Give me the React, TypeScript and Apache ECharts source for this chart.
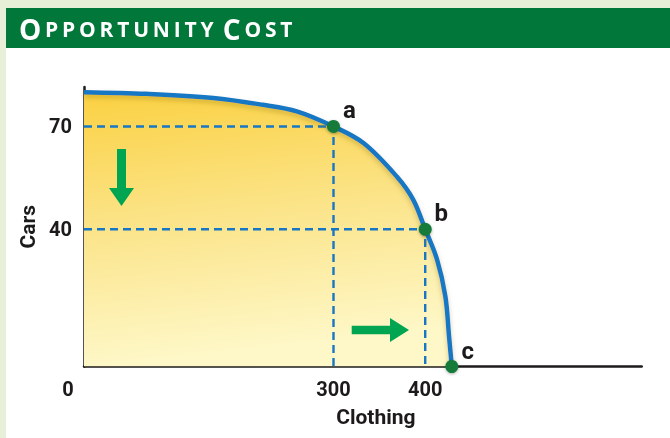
import React, { useEffect, useRef } from 'react';
import * as echarts from 'echarts';

// Production possibilities frontier (Clothing vs Cars)
const curveClothing = [28, 96, 169, 223, 260, 300, 333, 369, 387, 400, 413, 422, 426, 429];
const curveCars = [80, 79.5, 78.3, 76.3, 74.4, 70, 65.1, 55.4, 48.6, 40, 31.1, 20.4, 8.7, 0];
const pointNames = ['a', 'b', 'c'];
const pointClothing = [300, 400, 429];
const pointCars = [70, 40, 0];
const carTicks = [40, 70];
const clothingTicks = [28, 300, 400];
const clothingTickLabels = ['0', '300', '400'];
const clothingMin = 28;
const clothingMax = 636;
const carsMax = 81.5;
const titleText = 'OPPORTUNITY COST';

const AXIS_FONT = 'Roboto, "Liberation Sans Narrow", sans-serif';
const INK = '#1c1a1b';
const BLUE = '#1777c4';
const ARROW = '#00a551';

export default function App() {
  const ref = useRef<HTMLDivElement>(null);
  useEffect(() => {
    if (!ref.current) return;
    const chart = echarts.init(ref.current, undefined, { renderer: 'svg' });
    const curve = curveClothing.map((x, i) => [x, curveCars[i]]);
    const points = pointNames.map((n, i) => ({ value: [pointClothing[i], pointCars[i]], name: n }));
    const guides = [0, 1].map((i) => [
      [clothingMin, pointCars[i]],
      [pointClothing[i], pointCars[i]],
      [pointClothing[i], 0],
    ]);
    // small caps: first letter of each word large, others small, with letter spacing via padding
    const richTitle = titleText
      .split(' ')
      .map((w) => w.split('').map((ch, k) => `{${k === 0 ? 'b' : 's'}|${ch}}`).join(''))
      .join('{sp| }');
    const tf = '"Open Sans", sans-serif';
    const txt = { color: INK, fontFamily: AXIS_FONT, fontWeight: 'bold' as const, fontSize: 20 };

    chart.setOption({
      animation: false,
      grid: { left: 84, right: 28.3, top: 87, bottom: 71.5 },
      xAxis: {
        type: 'value',
        min: clothingMin,
        max: clothingMax,
        splitLine: { show: false },
        axisTick: { show: false },
        axisLine: { lineStyle: { color: INK, width: 2.5 } },
        axisLabel: {
          customValues: clothingTicks,
          margin: 12,
          formatter: (v: number) => {
            const idx = clothingTicks.indexOf(v);
            const t = idx >= 0 ? clothingTickLabels[idx] : '';
            return idx === 0 ? `{z|${t}}` : t;
          },
          ...txt,
          rich: { z: { ...txt, padding: [0, 32, 0, 0] } },
        },
        name: 'Clothing',
        nameLocation: 'middle',
        nameGap: 40,
        nameTextStyle: { ...txt, fontSize: 21, padding: [0, 0, 0, 26] },
      },
      yAxis: {
        type: 'value',
        min: 0,
        max: carsMax,
        splitLine: { show: false },
        axisTick: { show: false },
        axisLine: { lineStyle: { color: INK, width: 2.5 } },
        axisLabel: { customValues: carTicks, margin: 12, ...txt },
        name: 'Cars',
        nameLocation: 'middle',
        nameGap: 42,
        nameRotate: 90,
        nameTextStyle: { ...txt, fontSize: 21 },
      },
      series: [
        {
          type: 'line',
          data: curve,
          smooth: 0.35,
          symbol: 'none',
          z: 1,
          lineStyle: { width: 0 },
          areaStyle: {
            opacity: 1,
            color: {
              type: 'linear', x: 0, y: 0, x2: 0.15, y2: 1,
              colorStops: [
                { offset: 0, color: '#fbd142' },
                { offset: 0.5, color: '#fbe48a' },
                { offset: 1, color: '#fef8c9' },
              ],
            },
          },
        },
        ...guides.map((g) => ({
          type: 'line',
          data: g,
          symbol: 'none',
          z: 2,
          lineStyle: { color: BLUE, width: 2.4, type: [8, 5] },
        })),
        {
          type: 'line',
          data: curve,
          smooth: 0.35,
          symbol: 'none',
          z: 3,
          lineStyle: {
            color: BLUE,
            width: 4.5,
            shadowColor: 'rgba(140,110,0,0.35)',
            shadowBlur: 5,
            shadowOffsetY: 3,
          },
        },
        {
          type: 'scatter',
          data: points,
          symbolSize: 13,
          z: 4,
          itemStyle: { color: '#147a3b', opacity: 1, shadowColor: 'rgba(0,0,0,0.3)', shadowBlur: 3, shadowOffsetY: 1 },
          label: {
            show: true,
            formatter: (p: any) => p.name,
            position: 'inside',
            offset: [16, -16],
            ...txt,
            fontSize: 24,
          },
        },
      ],
      graphic: [
        { type: 'rect', z: -20, silent: true, shape: { x: 0, y: 0, width: 670, height: 438 }, style: { fill: '#e8efd9' } },
        { type: 'rect', z: -19, silent: true, shape: { x: 6, y: 47.7, width: 664, height: 391 }, style: { fill: '#ffffff' } },
        { type: 'rect', z: -19, silent: true, shape: { x: 6, y: 8, width: 664, height: 40 }, style: { fill: '#02773a' } },
        {
          type: 'text',
          z: 10,
          x: 19,
          y: 28.5,
          style: {
            text: richTitle,
            verticalAlign: 'middle',
            fill: '#ffffff',
            rich: {
              b: { fontFamily: tf, fontWeight: 'bold', fontSize: 28, fill: '#ffffff', padding: [0, 3.8, 0, 0] },
              s: { fontFamily: tf, fontWeight: 'bold', fontSize: 21, fill: '#ffffff', padding: [0, 3.8, 0, 0] },
              sp: { fontFamily: tf, fontWeight: 'bold', fontSize: 21, fill: '#ffffff', padding: [0, 0, 0, 0] },
            },
          },
        },
        {
          type: 'polygon',
          z: 10,
          shape: { points: [[117, 149], [126, 149], [126, 188], [134, 188], [121.5, 206], [109, 188], [117, 188]] },
          style: { fill: ARROW },
        },
        {
          type: 'polygon',
          z: 10,
          shape: { points: [[351.7, 325.7], [390, 325.7], [390, 318], [409, 330], [390, 342], [390, 334.3], [351.7, 334.3]] },
          style: { fill: ARROW },
        },
      ],
    });
    return () => chart.dispose();
  }, []);
  return <div ref={ref} style={{ position: 'fixed', left: 0, top: 0, width: 670, height: 438 }} />;
}
